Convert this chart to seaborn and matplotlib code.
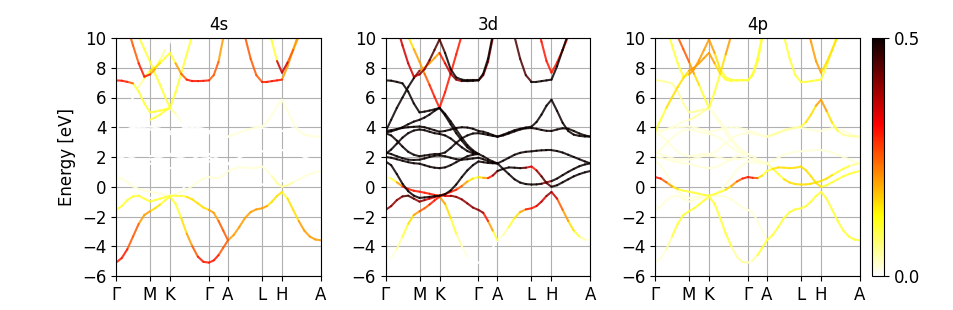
import numpy as np
import pandas as pd
import matplotlib
matplotlib.use("Agg")
import matplotlib.pyplot as plt
import seaborn as sns

# ---------------- data ----------------
kpath = [0, 5.67, 11.33, 17, 22.67, 28.33, 34, 39, 44, 49, 54,
         59.57, 65.14, 70.71, 76.29, 81.86, 87.43, 93,
         97.75, 102.5, 107.25, 112,
         117.67, 123.33, 129, 134.67, 140.33, 146,
         151, 156, 161, 166,
         171.57, 177.14, 182.71, 188.29, 193.86, 199.43, 205]
tick_pos = [0, 34, 54, 93, 112, 146, 166, 205]
tick_labels = ["Γ", "M", "K", "Γ", "A", "L", "H", "A"]
orbitals = ["4s", "3d", "4p"]
N = np.nan

# band energies (eV) at kpath points
band_B1 = [-5.1, -4.8, -4.2, -3.35, -2.5, -1.9, -1.65, -1.45, -1.2, -0.92, -0.67,
           -1.15, -2.1, -3.15, -4.0, -4.7, -5.05, -5.1, -4.95, -4.6, -4.1, -3.6,
           -3.25, -2.7, -2.1, -1.7, -1.52, -1.45, -1.3, -1.0, -0.62, -0.35,
           -0.8, -1.55, -2.3, -2.95, -3.35, -3.55, -3.6]
band_B2 = [-1.56, -1.3, -0.9, -0.65, -0.6, -0.8, -1.0, -0.9, -0.8, -0.7, -0.62,
           -0.6, -0.6, -0.68, -0.85, -1.12, -1.4, -1.56, -1.75, -2.3, -2.95, -3.6,
           N, N, N, N, N, N, N, N, N, N, N, N, N, N, N, N, N]
band_B3 = [0.65, 0.55, 0.3, 0.02, -0.15, -0.27, -0.33, -0.4, -0.47, -0.55, -0.6,
           -0.5, -0.35, -0.2, 0.05, 0.35, 0.55, 0.65, 0.6, 0.58, 0.75, 1.06,
           1.2, 1.3, 1.28, 1.25, 1.28, 1.36, 1.1, 0.7, 0.25, 0.0,
           0.1, 0.3, 0.5, 0.7, 0.85, 0.97, 1.06]
band_Di = [1.7, 1.45, 0.85, 0.2, -0.3, -0.6, -0.75, -0.72, -0.68, -0.64, -0.6,
           -0.5, -0.25, 0.15, 0.65, 1.1, 1.45, 1.7, 1.65, 1.6, 1.58, 1.57,
           N, N, N, N, N, N, N, N, N, N, N, N, N, N, N, N, N]
band_Dc = [2.0, 1.95, 1.85, 1.75, 1.65, 1.58, 1.55, 1.45, 1.35, 1.28, 1.25,
           1.3, 1.45, 1.65, 1.85, 2.05, 2.15, 2.2, 2.05, 1.85, 1.7, 1.57,
           1.75, 1.95, 2.15, 2.28, 2.35, 2.38, 2.42, 2.45, 2.46, 2.46,
           2.4, 2.3, 2.15, 2.0, 1.85, 1.7, 1.57]
band_Dj = [2.3, 2.2, 2.05, 1.92, 1.82, 1.8, 1.82, 1.9, 2.0, 2.08, 2.1,
           2.05, 1.95, 1.85, 1.82, 1.85, 1.9, 1.95, 1.85, 1.72, 1.62, 1.57,
           1.2, 0.85, 0.5, 0.28, 0.18, 0.15, 0.16, 0.2, 0.3, 0.38,
           0.55, 0.78, 1.0, 1.2, 1.38, 1.5, 1.57]
band_Db = [3.6, 3.45, 3.1, 2.7, 2.35, 2.15, 2.05, 2.1, 2.15, 2.2, 2.2,
           2.3, 2.6, 2.95, 3.25, 3.45, 3.58, 3.6, 3.55, 3.48, 3.42, 3.37,
           3.45, 3.58, 3.72, 3.85, 3.93, 3.95, 3.9, 3.82, 3.76, 3.75,
           3.85, 3.93, 3.9, 3.75, 3.58, 3.45, 3.37]
band_Dg = [2.2, 2.5, 2.9, 3.3, 3.6, 3.78, 3.85, 3.8, 3.7, 3.6, 3.55,
           3.45, 3.25, 2.95, 2.65, 2.4, 2.25, 2.2,
           N, N, N, N, N, N, N, N, N, N, N, N, N, N, N, N, N, N, N, N, N]
band_Da = [3.75, 3.8, 3.88, 3.95, 4.0, 4.03, 4.05, 4.0, 3.9, 3.8, 3.7,
           3.75, 3.85, 3.95, 4.0, 3.98, 3.9, 3.75, 3.7, 3.6, 3.48, 3.37,
           3.5, 3.65, 3.8, 3.9, 3.98, 4.04, 4.35, 4.85, 5.45, 5.85,
           5.1, 4.3, 3.75, 3.5, 3.42, 3.38, 3.37]
band_Dk = [3.65, 3.72, 3.85, 4.0, 4.2, 4.38, 4.5, 4.65, 4.85, 5.1, 5.3,
           4.8, 4.2, 3.6, 3.1, 2.65, 2.35, 2.2,
           N, N, N, N, N, N, N, N, N, N, N, N, N, N, N, N, N, N, N, N, N]
band_U1 = [7.15, 7.13, 7.05, 6.95, 6.4, 5.6, 5.0, 5.05, 5.12, 5.2, 5.3,
           4.9, 4.4, 3.85, 3.3, 2.8, 2.45, 2.2,
           N, N, N, N, N, N, N, N, N, N, N, N, N, N, N, N, N, N, N, N, N]
band_P1 = [3.7, 4.5, 5.3, 6.0, 6.7, 7.3, 7.8, 8.0, 8.3, 8.65, 9.0,
           8.3, 7.6, 7.2, 7.1, 7.1, 7.12, 7.15, 7.5, 8.4, 10.0, 11.9,
           11.6, 10.9, 10.1, 8.6, 7.5, 7.05, 7.05, 7.1, 7.15, 7.2,
           8.1, 9.2, 10.3, 11.4, 12.3, 12.8, 13.0]
band_Ua = [14.0, 12.5, 10.8, 9.5, 8.3, 7.4, 7.55, 7.9, 8.5, 9.2, 9.9,
           9.0, 7.9, 7.35, 7.2, 7.15, 7.15, 7.15, 7.6, 8.6, 10.2, 12.2,
           13.0, 13.5, 14.0, 14.0, 13.2, 12.2, 11.0, 9.75, 8.45, 7.67,
           8.35, 9.2, 10.1, 11.0, 11.7, 12.2, 12.4]
band_X = [15.0, 14.0, 13.0, 12.0, 10.1, 9.25, 8.4, 7.6, 6.85, 6.05, 5.3,
          6.35, 7.6, 8.9, 10.2, 11.5, 12.5, 13.0,
          N, N, N, N, N, N, N, N, N, N, N, N, N, N, N, N, N, N, N, N, N]

# orbital weights per segment: '.' = 0.02, digits = n*0.05, 'a' = 0.50
# segment groups: G-M | M-K | K-G | G-A | A-L | L-H | H-A
w_s_B1 = "665544 3322 2234566 6655 444444 4333 2334444"
w_d_B1 = "0.1234 5566 4321.00 0000 .12346 6778 754321."
w_p_B1 = "..1222 2222 2222111 .122 222222 2222 2222222"
w_s_B2 = "222222 2222 2223333 4455 000000 0000 0000000"
w_d_B2 = "888998 8776 6788888 8642 000000 0000 0000000"
w_p_B2 = "...... .... ....... .... 000000 0000 0000000"
w_s_B3 = "...... .... ....... .... ...... ..11 11....."
w_d_B3 = "124666 6666 6665432 3468 aaaa97 6899 aaaaaaa"
w_p_B3 = "654322 2222 2223456 6532 233333 3333 2222222"
w_s_Di = "000000 0000 0000000 0000 000000 0000 0000000"
w_d_Di = "aaaaaa aaaa aaaaaaa aaaa aaaaaa aaaa aaaaaaa"
w_p_Di = "...... .... ....... .... ...... .... ......."
w_s_Dc = "000000 0000 0000000 0000 000000 0000 0000000"
w_d_Dc = "aaaaaa aaaa aaaaaaa aaaa aaaaaa aaaa aaaaaaa"
w_p_Dc = "...... .... ....... .... ...... .... ......."
w_s_Dj = "000000 0000 0000000 0000 000000 0000 0000000"
w_d_Dj = "aaaaaa aaaa aaaaaaa aaaa aaaaaa aa88 aaaaaaa"
w_p_Dj = "...... .... ....... .... 122333 3333 3322211"
w_s_Db = "000000 0000 0000000 0000 000000 0000 0000000"
w_d_Db = "aaaaaa aaaa aaaaaaa aaaa aaaaaa aaaa aaaaaaa"
w_p_Db = "...... .... ....... .... ...... .... ......."
w_s_Dg = "000000 0000 0000000 0000 000000 0000 0000000"
w_d_Dg = "aaaaaa aaaa aaaaaaa aaaa aaaaaa aaaa aaaaaaa"
w_p_Dg = "...... .... ....... .... ...... .... ......."
w_s_Da = "000000 0000 0000000 0000 ...... .... ......."
w_d_Da = "aaaaaa aaaa aaaaaaa aaaa aaaaaa aaaa aaaaaaa"
w_p_Da = "...... .... ....... .... 111111 2334 4321111"
w_s_Dk = "000000 2222 0000000 0000 000000 0000 0000000"
w_d_Dk = "aaaaaa aaaa aaaaaaa aaaa aaaaaa aaaa aaaaaaa"
w_p_Dk = "...... 1111 ....... .... ...... .... ......."
w_s_U1 = "665222 2222 1.00000 0000 000000 0000 0000000"
w_d_U1 = "aaaaaa aaaa aaaaaaa aaaa aaaaaa aaaa aaaaaaa"
w_p_U1 = "111111 1111 ....... .... ...... .... ......."
w_s_P1 = "000012 3322 2456666 5544 555555 6666 4444444"
w_d_P1 = "aaaaa8 4444 6788aaa 8888 999999 aaaa aaaaaaa"
w_p_P1 = "223333 4444 4322111 2222 222222 2222 2222222"
w_s_Ua = "555566 4210 0000000 0000 000000 2227 7544444"
w_d_Ua = "677777 8899 9aaaaaa aaaa aaaaaa 6666 6666666"
w_p_Ua = "222222 4444 4322222 2222 222222 4444 3333333"
w_s_X = "222222 2222 2222222 0000 000000 0000 0000000"
w_d_X = "001234 4566 6666666 0000 000000 0000 0000000"
w_p_X = "666655 4322 2234444 0000 000000 0000 0000000"

bands = {
    "B1": (band_B1, w_s_B1, w_d_B1, w_p_B1),
    "B2": (band_B2, w_s_B2, w_d_B2, w_p_B2),
    "B3": (band_B3, w_s_B3, w_d_B3, w_p_B3),
    "Di": (band_Di, w_s_Di, w_d_Di, w_p_Di),
    "Dc": (band_Dc, w_s_Dc, w_d_Dc, w_p_Dc),
    "Dj": (band_Dj, w_s_Dj, w_d_Dj, w_p_Dj),
    "Db": (band_Db, w_s_Db, w_d_Db, w_p_Db),
    "Dg": (band_Dg, w_s_Dg, w_d_Dg, w_p_Dg),
    "Da": (band_Da, w_s_Da, w_d_Da, w_p_Da),
    "Dk": (band_Dk, w_s_Dk, w_d_Dk, w_p_Dk),
    "U1": (band_U1, w_s_U1, w_d_U1, w_p_U1),
    "P1": (band_P1, w_s_P1, w_d_P1, w_p_P1),
    "Ua": (band_Ua, w_s_Ua, w_d_Ua, w_p_Ua),
    "X": (band_X, w_s_X, w_d_X, w_p_X),
}


def decode(s):
    s = s.replace(" ", "")
    assert len(s) == len(kpath) - 1, s
    return [0.02 if c == "." else int(c, 16) * 0.05 for c in s]


rows = []
sid = 0
for name, (en, ws, wd, wp) in bands.items():
    assert len(en) == len(kpath), name
    wmap = {"4s": decode(ws), "3d": decode(wd), "4p": decode(wp)}
    for orb in orbitals:
        w = wmap[orb]
        for i in range(len(kpath) - 1):
            if np.isnan(en[i]) or np.isnan(en[i + 1]):
                continue
            sid += 1
            rows.append((orb, sid, kpath[i], en[i], w[i]))
            rows.append((orb, sid, kpath[i + 1], en[i + 1], w[i]))
df = pd.DataFrame(rows, columns=["orb", "sid", "k", "E", "w"])

# ---------------- figure ----------------
plt.rcParams["font.size"] = 12
W, H = 954, 310
fig = plt.figure(figsize=(W / 100, H / 100), dpi=100)
lefts = [116, 385.5, 655]
for j, orb in enumerate(orbitals):
    ax = fig.add_axes([lefts[j] / W, 34 / H, 205 / W, 238 / H])
    ax.set_axisbelow(True)
    ax.grid(True, color="#b0b0b0", linewidth=0.8)
    sns.lineplot(data=df[df.orb == orb], x="k", y="E", hue="w", units="sid",
                 estimator=None, palette="hot_r", hue_norm=(0, 0.5),
                 legend=False, sort=False, linewidth=1.5, alpha=0.85,
                 solid_capstyle="round", ax=ax)
    ax.set_xlim(0, 205)
    ax.set_ylim(-6, 10)
    ax.set_xticks(tick_pos)
    ax.set_xticklabels(tick_labels)
    ax.set_yticks(np.arange(-6, 11, 2))
    ax.set_xlabel("")
    ax.set_ylabel("Energy [eV]" if j == 0 else "")
    ax.set_title(orb, fontsize=12)

cax = fig.add_axes([872 / W, 34 / H, 12 / W, 238 / H])
sm = matplotlib.cm.ScalarMappable(cmap="hot_r", norm=matplotlib.colors.Normalize(0, 0.5))
cb = fig.colorbar(sm, cax=cax, ticks=[0, 0.5])
cb.ax.set_yticklabels(["0.0", "0.5"])
cb.outline.set_linewidth(0.8)

fig.savefig("out.png", dpi=100)
